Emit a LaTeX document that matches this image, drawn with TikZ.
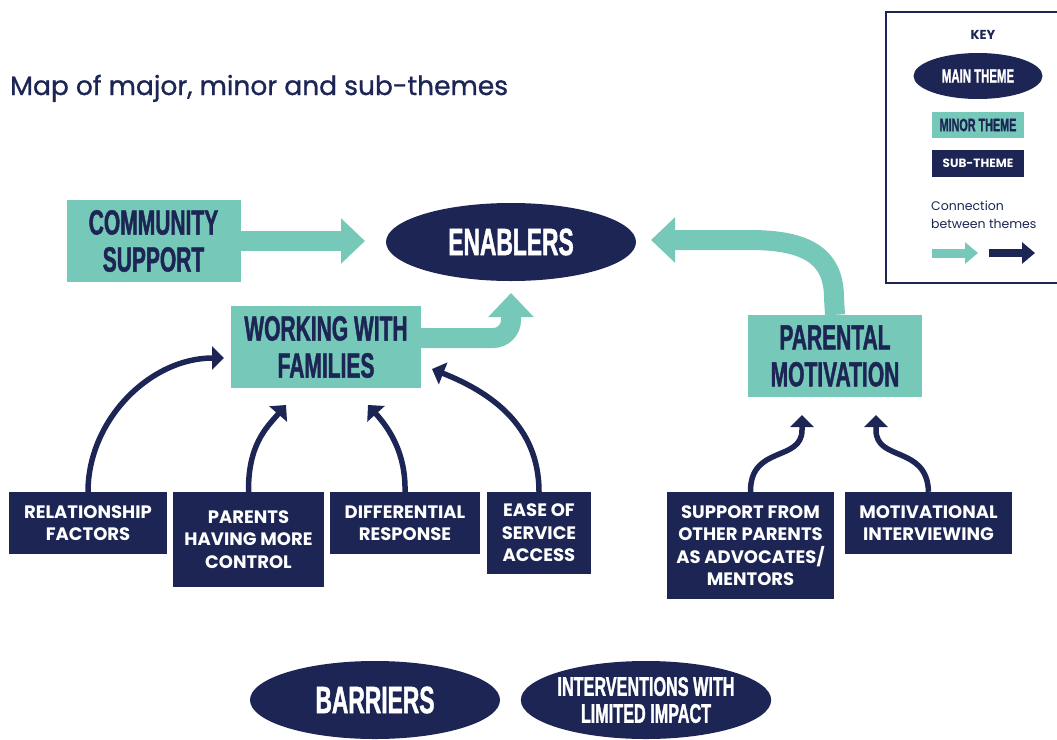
\documentclass[tikz,border=0pt]{standalone}
\usepackage{fontspec}
\setmainfont{Poppins}
\newfontfamily\headfont[FakeStretch=0.6,FakeBold=1.2]{Liberation Sans}
\newfontfamily\titlefont[FakeBold=1]{Poppins}
\usepackage{tikz}
\usetikzlibrary{arrows.meta,shapes,positioning}
\definecolor{thnavy}{RGB}{28,37,84}
\definecolor{thteal}{RGB}{118,200,184}
\tikzstyle{maintheme} = [ellipse, minimum width=250pt, minimum height=78pt, inner sep=0pt, fill=thnavy, text=white, align=center, font=\headfont\bfseries\fontsize{38pt}{40pt}\selectfont]
\tikzstyle{minortheme} = [rectangle, minimum width=174pt, minimum height=82pt, inner sep=0pt, fill=thteal, text=thnavy, align=center, font=\headfont\bfseries\fontsize{35pt}{37pt}\selectfont]
\tikzstyle{subtheme} = [rectangle, minimum height=62pt, inner sep=0pt, fill=thnavy, text=white, align=center, font=\bfseries\fontsize{18pt}{22.5pt}\selectfont]
\tikzstyle{themelink} = [line width=20pt, color=thteal, -{Triangle[length=24pt,width=44pt]}]
\tikzstyle{subarrow} = [line width=5.5pt, color=thnavy, -{Triangle[length=12pt,width=23pt]}]

\begin{document}
\begin{tikzpicture}[x=1pt, y=-1pt]
    \useasboundingbox (0,0) rectangle (1057,739);

    % Title
    \node[anchor=base west, inner sep=0pt, text=thnavy, font=\titlefont\fontsize{26.5pt}{30pt}\selectfont] (title) at (10,95) {Map of major, minor and sub-themes};

    % Main themes
    \node[maintheme] (enablers) at (511,242) {ENABLERS};
    \node[maintheme] (barriers) at (375,700) {BARRIERS};
    \node[maintheme, font=\headfont\bfseries\fontsize{27pt}{27pt}\selectfont] (interventions) at (646,700) {INTERVENTIONS WITH\\LIMITED IMPACT};

    % Minor themes
    \node[minortheme] (cs) at (153.5,241) {COMMUNITY\\SUPPORT};
    \node[minortheme, minimum width=190pt] (wwf) at (326,347) {WORKING WITH\\FAMILIES};
    \node[minortheme] (pm) at (835,356) {PARENTAL\\MOTIVATION};

    % Sub-themes
    \node[subtheme, minimum width=158pt] (rel) at (88,523) {RELATIONSHIP\\FACTORS};
    \node[subtheme, minimum width=151pt, minimum height=95pt] (phmc) at (248.5,539.5) {PARENTS\\HAVING MORE\\CONTROL};
    \node[subtheme, minimum width=150pt] (diff) at (405,523) {DIFFERENTIAL\\RESPONSE};
    \node[subtheme, minimum width=104pt, minimum height=82pt] (ease) at (539,533) {EASE OF\\SERVICE\\ACCESS};
    \node[subtheme, minimum width=167pt, minimum height=107pt] (support) at (750.5,545.5) {SUPPORT FROM\\OTHER PARENTS\\AS ADVOCATES/\\MENTORS};
    \node[subtheme, minimum width=167pt] (motiv) at (928.5,523) {MOTIVATIONAL\\INTERVIEWING};

    % Arrow ends
    \coordinate (csend) at (365,241);
    \coordinate (wwfout) at (421,338);
    \coordinate (wwfend) at (511,293);
    \coordinate (pmend) at (651,240);
    \coordinate (relend) at (224,358);
    \coordinate (phmcend) at (286,405);
    \coordinate (diffend) at (368,405);
    \coordinate (easeend) at (432,369);
    \coordinate (supportend) at (802,415);
    \coordinate (motivend) at (876,415);

    % Connections between minor and main themes
    \draw[themelink] (cs.east) -- (csend);
    \draw[themelink, rounded corners=18pt] (wwfout) -| (wwfend);
    \draw[themelink] (pm.north) -- (834,298) .. controls (834,255) and (805,240) .. (750,240) -- (pmend);

    % Connections from sub-themes
    \draw[subarrow] (rel.north) .. controls (88,420) and (150,358) .. (relend);
    \draw[subarrow] (phmc.north) .. controls (248,445) and (266,428) .. (phmcend);
    \draw[subarrow] (diff.north) .. controls (406,450) and (386,425) .. (diffend);
    \draw[subarrow] (ease.north) .. controls (539,425) and (490,392) .. (easeend);
    \draw[subarrow] (support.north) .. controls (750,445) and (802,462) .. (802,430) -- (supportend);
    \draw[subarrow] (motiv.north) .. controls (927,445) and (876,462) .. (876,430) -- (motivend);

    % Key
    \draw[thnavy, line width=1.5pt] (1057,12) -| (886,283) -- (1057,283);
    \node[text=thnavy, font=\bfseries\fontsize{13pt}{15pt}\selectfont] (keytitle) at (983,35) {KEY};
    \node[maintheme, minimum width=129pt, minimum height=46pt, font=\headfont\bfseries\fontsize{19pt}{20pt}\selectfont] (keymain) at (978,76) {MAIN THEME};
    \node[minortheme, minimum width=92pt, minimum height=26pt, font=\headfont\bfseries\fontsize{18pt}{20pt}\selectfont] (keyminor) at (978,125) {MINOR THEME};
    \node[subtheme, minimum width=92pt, minimum height=27pt, font=\bfseries\fontsize{12pt}{14pt}\selectfont] (keysub) at (978,163) {SUB-THEME};
    \node[anchor=north west, inner sep=0pt, text=thnavy, align=left, font=\fontsize{12.5pt}{18pt}\selectfont] (keyconn) at (931,201) {Connection\\between themes};
    \coordinate (keyta) at (932,253);
    \coordinate (keytb) at (978,253);
    \coordinate (keyna) at (989,253);
    \coordinate (keynb) at (1035,253);
    \draw[color=thteal, line width=9pt, -{Triangle[length=13pt,width=21pt]}] (keyta) -- (keytb);
    \draw[color=thnavy, line width=8pt, -{Triangle[length=13pt,width=21pt]}] (keyna) -- (keynb);
\end{tikzpicture}
\end{document}
